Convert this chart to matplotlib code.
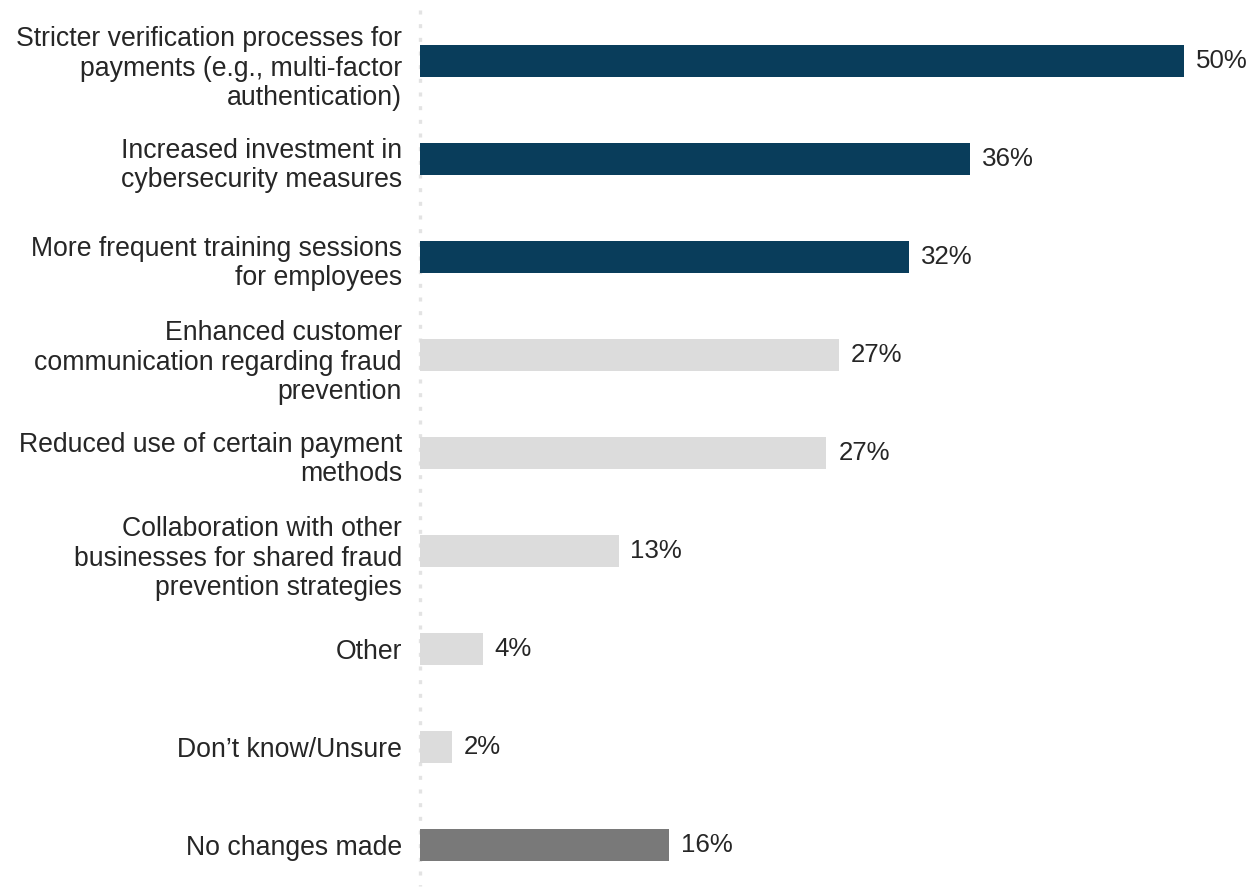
import matplotlib
matplotlib.use('Agg')
import matplotlib.pyplot as plt
from matplotlib.transforms import ScaledTranslation

plt.rcParams['font.family'] = ['Liberation Sans', 'DejaVu Sans']

NAVY = '#093d5b'
LGRY = '#dcdcdc'
DGRY = '#797979'
TXT  = '#262626'
DOT  = '#e3e3e3'

labels = [
    'Stricter verification processes for\npayments (e.g., multi-factor\nauthentication)',
    'Increased investment in\ncybersecurity measures',
    'More frequent training sessions\nfor employees',
    'Enhanced customer\ncommunication regarding fraud\nprevention',
    'Reduced use of certain payment\nmethods',
    'Collaboration with other\nbusinesses for shared fraud\nprevention strategies',
    'Other',
    'Don\u2019t know/Unsure',
    'No changes made',
]
values = [50, 36, 32, 27.4, 26.6, 13, 4.1, 2.1, 16.3]
colors = [NAVY, NAVY, NAVY, LGRY, LGRY, LGRY, LGRY, LGRY, DGRY]

W, H = 1250, 890
fig = plt.figure(figsize=(W / 100, H / 100), dpi=100, facecolor='white')
ax = fig.add_axes([420 / W, 0, 830 / W, 1])

y = list(range(len(labels)))
ax.barh(y, values, height=0.327, color=colors, zorder=3)

# dotted baseline at zero
ax.plot([0, 0], [-0.52, 8.42], color=DOT, lw=2.4, dashes=(1.2, 2.9),
        dash_capstyle='butt', zorder=1, clip_on=False)

for yi, v in zip(y, values):
    ax.annotate(f'{v:.0f}%', (v, yi), xytext=(8.5, 0), textcoords='offset points',
                ha='left', va='center', fontsize=18.6, color=TXT)

ax.set_xlim(0, 830 / 15.28)
ax.set_ylim((H - 61) / 98, -61 / 98)
ax.set_yticks(y)
ax.set_yticklabels(labels, fontsize=19.2, color=TXT, linespacing=1.16)
ax.tick_params(axis='y', length=0, pad=13)
ax.set_xticks([])
for s in ax.spines.values():
    s.set_visible(False)

# wrapped labels sit a little lower than the bar centre
for lab in ax.get_yticklabels():
    n = lab.get_text().count('\n')
    lab.set_transform(lab.get_transform() +
                      ScaledTranslation(0, -n * 1.1 / 72, fig.dpi_scale_trans))

fig.savefig('out.png', dpi=100, facecolor='white')
